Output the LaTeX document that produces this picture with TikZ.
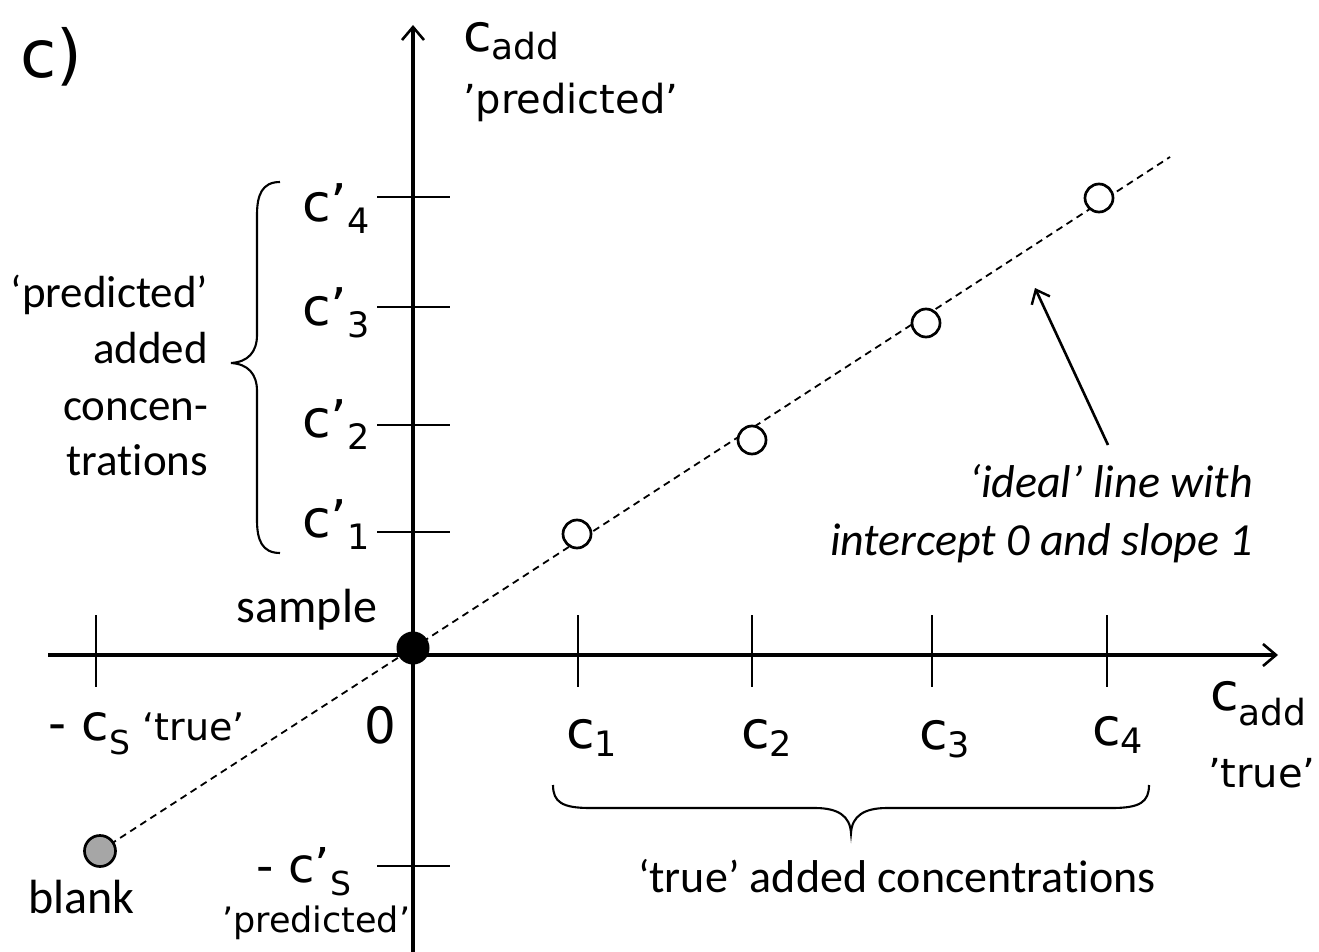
\documentclass[tikz,border=0pt]{standalone}
\usepackage{fontspec}
\setmainfont{Carlito}[Ligatures=NoCommon]
\newfontfamily\symfont{DejaVu Sans}
\usetikzlibrary{arrows.meta}

% font size helper and a lowered, smaller subscript: \sbx{drop}{size}{text}
\newcommand\fsz[1]{\fontsize{#1}{#1}\selectfont}
\newcommand\sbx[3]{\raisebox{-#1pt}{\fsz{#2}#3}}

\begin{document}
\begin{tikzpicture}[x=1pt,y=-1pt,
  every node/.style={inner sep=0pt,outer sep=0pt},
  axisline/.style={line width=3.4pt,-{Straight Barb[length=13pt,width=22pt,line width=2.6pt]}},
  tickline/.style={line width=2.3pt},
  guide/.style={line width=1.8pt,dash pattern=on 7pt off 5pt},
  bracket/.style={line width=2.1pt},
  pointer/.style={line width=2.6pt,-{Straight Barb[length=12pt,width=20pt,line width=2.4pt]}},
  opendot/.style={circle,draw,line width=2.7pt,fill=white,minimum size=28pt},
  sampledot/.style={circle,fill=black,minimum size=33pt},
  blankdot/.style={circle,draw,line width=2.7pt,fill=blankgray,minimum size=31pt},
  body/.style={font=\fsz{45}},
  note/.style={font=\itshape\fsz{46}},
  sym/.style={font=\symfont\fsz{52}},
  axlabel/.style={font=\symfont\fsz{40}}
]
\definecolor{blankgray}{RGB}{166,166,166}
\useasboundingbox (0,0) rectangle (1319,952);

% axis end points
\coordinate (xstart) at (48,655);
\coordinate (xend)   at (1278,655);
\coordinate (ystart) at (413,952);
\coordinate (yend)   at (413,25);

% ideal line end points
\coordinate (blankpos)  at (100,851);
\coordinate (samplepos) at (413,648);
\coordinate (lineend)   at (1170,157);

% axes
\draw[axisline] (xstart) -- (xend);
\draw[axisline] (ystart) -- (yend);

% ticks on the horizontal axis
\foreach \tx in {96,578,752,932,1107}
  \draw[tickline] (\tx,615) -- (\tx,687);
% ticks on the vertical axis
\foreach \ty in {197,307,425,532,866}
  \draw[tickline] (377,\ty) -- (450,\ty);

% ideal line through blank and sample
\draw[guide] (blankpos) -- (samplepos) -- (lineend);

% data points
\node[blankdot]  (blank)  at (blankpos) {};
\node[sampledot] (sample) at (samplepos) {};
\node[opendot] (p1) at (577,534) {};
\node[opendot] (p2) at (752,440) {};
\node[opendot] (p3) at (926,323) {};
\node[opendot] (p4) at (1099,198) {};

% annotation arrow
\coordinate (notetail) at (1108,445);
\coordinate (notetip)  at (1035,288);
\draw[pointer] (notetail) -- (notetip);

% panel letter
\node[font=\symfont\fsz{66},anchor=base west] (panel) at (20,78) {c)};

% vertical axis name
\node[sym,anchor=base west] (yname) at (463,52) {c\sbx{8}{36}{add}};
\node[axlabel,anchor=base west] (ypred) at (463,114) {’predicted’};

% horizontal axis name
\node[sym,anchor=base west] (xname) at (1210,710) {c\sbx{15}{36}{add}};
\node[axlabel,anchor=base west] (xtrue) at (1208,787) {’true’};

% predicted concentrations
\node[sym,anchor=base west] (cp4) at (302,222) {c’\sbx{12}{35}{4}};
\node[sym,anchor=base west] (cp3) at (302,325) {c’\sbx{12}{35}{3}};
\node[sym,anchor=base west] (cp2) at (302,437) {c’\sbx{12}{35}{2}};
\node[sym,anchor=base west] (cp1) at (302,537) {c’\sbx{12}{35}{1}};

% true concentrations
\node[sym,anchor=base west] (c1) at (566,748) {c\sbx{8}{35}{1}};
\node[sym,anchor=base west] (c2) at (741,748) {c\sbx{8}{35}{2}};
\node[sym,anchor=base west] (c3) at (919,749) {c\sbx{8}{35}{3}};
\node[sym,anchor=base west] (c4) at (1092,745) {c\sbx{8}{35}{4}};

% origin and sample concentration labels
\node[font=\symfont\fsz{50},anchor=base] (zero) at (380,743) {0};
\node[font=\symfont\fsz{50},anchor=base west] (cstrue) at (48,740)
  {- c\sbx{14}{33}{S}\fsz{38} ‘true’};
\node[font=\symfont\fsz{48},anchor=base west] (cspred) at (256,882)
  {- c’\sbx{13}{33}{S}};
\node[font=\symfont\fsz{35},anchor=base west] (cspredq) at (222,932) {’predicted’};

% point names
\node[font=\fsz{48},anchor=base east] (samplelbl) at (377,622) {sample};
\node[font=\fsz{48},anchor=base west] (blanklbl) at (28,913) {blank};

% left brace and its text
\draw[bracket] (280,182) .. controls (262,182) and (257,195) .. (257,215)
  -- (257,335) .. controls (257,352) and (248,362) .. (231,363)
  .. controls (248,364) and (257,374) .. (257,391)
  -- (257,520) .. controls (257,540) and (262,553) .. (280,553);
\node[body,anchor=base east] (pl1) at (208,307) {‘predicted’};
\node[body,anchor=base east] (pl2) at (208,363) {added};
\node[body,anchor=base east] (pl3) at (208,420) {concen-};
\node[body,anchor=base east] (pl4) at (208,475) {trations};

% bottom brace and its text
\draw[bracket] (553,785) .. controls (553,802) and (562,808) .. (590,808)
  -- (815,808) .. controls (838,808) and (850,816) .. (851,833)
  .. controls (852,816) and (864,808) .. (887,808)
  -- (1112,808) .. controls (1140,808) and (1149,802) .. (1149,785);
\node[font=\fsz{46},anchor=base west] (truelbl) at (638,892) {‘true’ added concentrations};

% note on the ideal line
\node[note,anchor=base east] (note1) at (1253,497) {‘ideal’ line with};
\node[note,anchor=base east] (note2) at (1253,555) {intercept 0 and slope 1};
\end{tikzpicture}
\end{document}
